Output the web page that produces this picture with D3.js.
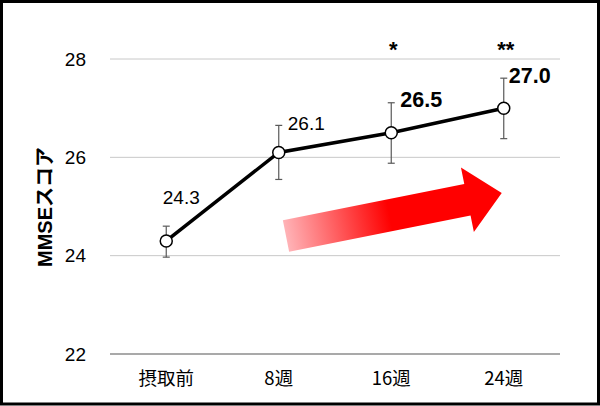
<!DOCTYPE html>
<html>
<head>
<meta charset="utf-8">
<script src="https://cdn.jsdelivr.net/npm/d3@7"></script>
<style>
  body { margin: 0; background: #fff; }
  svg { display: block; }
</style>
</head>
<body>
<div id="chart"></div>
<script>
const categories = ["摂取前", "8週", "16週", "24週"];
const scores = [24.3, 26.1, 26.5, 27.0];
const errLow = [0.33, 0.55, 0.62, 0.62];
const errHigh = [0.30, 0.55, 0.61, 0.61];
const scoreLabels = ["24.3", "26.1", "26.5", "27.0"];
const boldLabel = [false, false, true, true];
const significance = ["", "", "*", "**"];
const yTicks = [22, 24, 26, 28];

const width = 600, height = 406;
const plot = {left: 110, right: 560, top: 59, bottom: 354};

const svg = d3.select("#chart").append("svg")
    .attr("width", width)
    .attr("height", height);

svg.append("rect")
    .attr("x", 1.5).attr("y", 1.5)
    .attr("width", width - 3).attr("height", height - 3.5)
    .attr("fill", "#fff")
    .attr("stroke", "#000")
    .attr("stroke-width", 3);

const x = d3.scaleBand()
    .domain(categories)
    .range([plot.left, plot.right]);

const y = d3.scaleLinear()
    .domain([22, 28])
    .range([plot.bottom, plot.top]);

const cx = d => x(d) + x.bandwidth() / 2;

// gridlines
svg.append("g").selectAll("line")
    .data(yTicks)
    .join("line")
    .attr("x1", plot.left).attr("x2", plot.right)
    .attr("y1", d => y(d)).attr("y2", d => y(d))
    .attr("stroke", d => d === 22 ? "#8c8c8c" : "#c8c8c8")
    .attr("stroke-width", d => d === 22 ? 1.5 : 1);

// y tick labels
svg.append("g").selectAll("text")
    .data(yTicks)
    .join("text")
    .attr("x", 86)
    .attr("y", d => y(d) + 6.7)
    .attr("text-anchor", "end")
    .attr("font-family", "Liberation Sans, Arial, sans-serif")
    .attr("font-size", 19)
    .text(d => d);

// y axis title
svg.append("text")
    .attr("transform", "translate(52,207) rotate(-90)")
    .attr("text-anchor", "middle")
    .attr("font-family", "Liberation Sans, Noto Sans CJK JP, sans-serif")
    .attr("font-weight", "bold")
    .attr("font-size", 20)
    .text("MMSEスコア");

// x labels
svg.append("g").selectAll("text")
    .data(categories)
    .join("text")
    .attr("x", d => cx(d))
    .attr("y", 385)
    .attr("text-anchor", "middle")
    .attr("font-family", "Noto Sans CJK JP, sans-serif")
    .attr("font-size", 18.5)
    .text(d => d);

// arrow (decoration)
const defs = svg.append("defs");
const grad = defs.append("linearGradient")
    .attr("id", "arrowGrad")
    .attr("gradientUnits", "userSpaceOnUse")
    .attr("x1", 0).attr("x2", 220).attr("y1", 0).attr("y2", 0);
grad.append("stop").attr("offset", 0).attr("stop-color", "#ffb3b7");
grad.append("stop").attr("offset", 0.48).attr("stop-color", "#ff0000");
grad.append("stop").attr("offset", 1).attr("stop-color", "#ff0000");

const arrowShape = [[0, -16], [185, -16], [185, -33], [220, 0], [185, 33], [185, 16], [0, 16]];
svg.append("path")
    .attr("transform", "translate(286,236) rotate(-11.3)")
    .attr("d", d3.line()(arrowShape) + "Z")
    .attr("fill", "url(#arrowGrad)");

// error bars
const eb = svg.append("g").attr("stroke", "#595959").attr("stroke-width", 1.2);
categories.forEach((c, i) => {
  const px = cx(c);
  const top = y(scores[i] + errHigh[i]);
  const bot = y(scores[i] - errLow[i]);
  eb.append("line").attr("x1", px).attr("x2", px).attr("y1", top).attr("y2", bot);
  eb.append("line").attr("x1", px - 3.5).attr("x2", px + 3.5).attr("y1", top).attr("y2", top);
  eb.append("line").attr("x1", px - 3.5).attr("x2", px + 3.5).attr("y1", bot).attr("y2", bot);
});

// line
svg.append("path")
    .datum(scores)
    .attr("fill", "none")
    .attr("stroke", "#000")
    .attr("stroke-width", 3.5)
    .attr("d", d3.line()
        .x((d, i) => cx(categories[i]))
        .y(d => y(d)));

// markers
svg.append("g").selectAll("circle")
    .data(scores)
    .join("circle")
    .attr("cx", (d, i) => cx(categories[i]))
    .attr("cy", d => y(d))
    .attr("r", 6)
    .attr("fill", "#fff")
    .attr("stroke", "#000")
    .attr("stroke-width", 1.5);

// value labels
const labelOffset = [[15, -36.5], [9, -22.5], [9, -26], [5, -25.5]];
svg.append("g").selectAll("text")
    .data(scores)
    .join("text")
    .attr("x", (d, i) => cx(categories[i]) + labelOffset[i][0])
    .attr("y", (d, i) => y(d) + labelOffset[i][1])
    .attr("text-anchor", (d, i) => i === 0 ? "middle" : "start")
    .attr("font-family", "Liberation Sans, Arial, sans-serif")
    .attr("font-size", (d, i) => boldLabel[i] ? 21.5 : 19)
    .attr("font-weight", (d, i) => boldLabel[i] ? "bold" : "normal")
    .text((d, i) => scoreLabels[i]);

// significance marks
svg.append("g").selectAll("text")
    .data(significance)
    .join("text")
    .attr("x", (d, i) => cx(categories[i]) + 2)
    .attr("y", 57)
    .attr("text-anchor", "middle")
    .attr("font-family", "Liberation Sans, Arial, sans-serif")
    .attr("font-weight", "bold")
    .attr("font-size", 22)
    .text(d => d);
</script>
</body>
</html>
